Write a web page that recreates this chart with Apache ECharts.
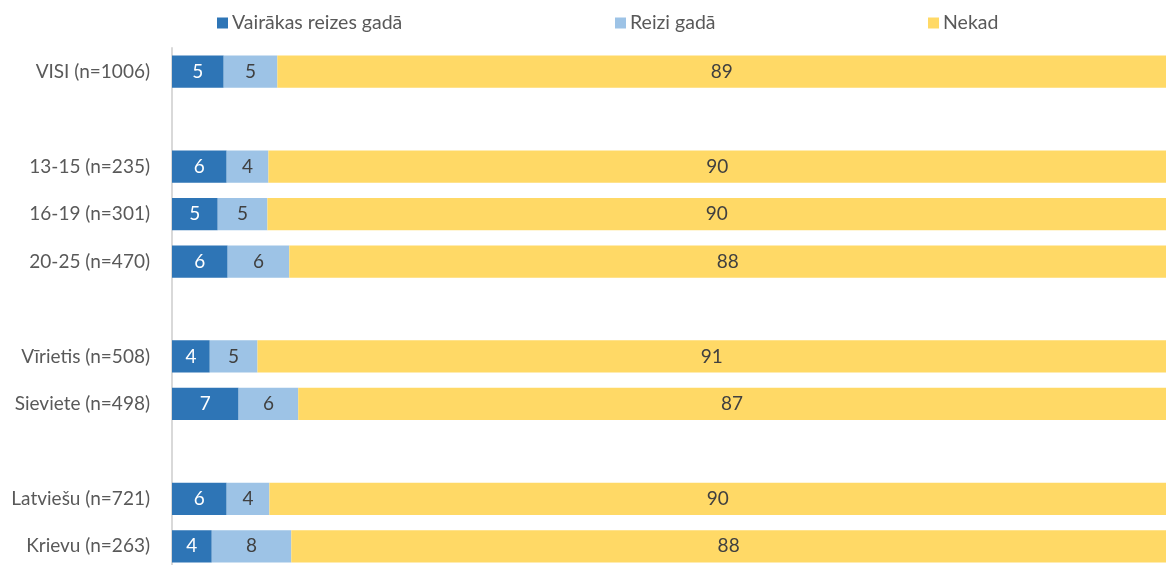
<!DOCTYPE html>
<html><head><meta charset="utf-8">
<script src="https://cdn.jsdelivr.net/npm/echarts@6/dist/echarts.min.js"></script>
<style>html,body{margin:0;padding:0;background:#fff;overflow:hidden}#c{width:1166px;height:575px}</style>
</head><body><div id="c"></div>
<script>
const categories = ['VISI (n=1006)', ' ', '13-15 (n=235)', '16-19 (n=301)', '20-25 (n=470)', '  ', 'Vīrietis (n=508)', 'Sieviete (n=498)', '   ', 'Latviešu (n=721)', 'Krievu (n=263)'];
const seriesNames = ['Vairākas reizes gadā', 'Reizi gadā', 'Nekad'];
const severalTimes = [5.2, null, 5.5, 4.6, 5.6, null, 3.8, 6.7, null, 5.5, 4.0];
const once = [5.4, null, 4.2, 5.0, 6.2, null, 4.8, 6.0, null, 4.3, 8.0];
const never = [89.4, null, 90.3, 90.4, 88.2, null, 91.4, 87.3, null, 90.2, 88.0];
const colors = ['#2E75B6', '#9DC3E6', '#FFD966'];
const labelColors = ['#FFFFFF', '#404040', '#404040'];
const values = [severalTimes, once, never];
const FONT = 'Lato';

const chart = echarts.init(document.getElementById('c'), null, {renderer: 'canvas'});
const legendLefts = [212, 610, 923];
chart.setOption({
  animation: false,
  textStyle: {fontFamily: FONT},
  legend: seriesNames.map((n, i) => ({
    data: [n], left: legendLefts[i], top: 8, itemWidth: 11, itemHeight: 11, itemGap: 0,
    icon: 'rect', textStyle: {fontFamily: FONT, fontSize: 19.5, color: '#595959', padding: [0, 0, 0, -1]},
    selectedMode: false
  })),
  grid: {left: 172, right: 0, top: 48, height: 522, containLabel: false},
  xAxis: {type: 'value', min: 0, max: 100, show: false},
  yAxis: {
    type: 'category', data: categories, inverse: true,
    axisLine: {show: true, lineStyle: {color: '#D9D9D9', width: 2}},
    axisTick: {show: false},
    axisLabel: {fontFamily: FONT, fontSize: 19, color: '#595959', margin: 22}
  },
  series: seriesNames.map((n, i) => ({
    name: n, type: 'bar', stack: 'all', data: values[i], barCategoryGap: '32%',
    itemStyle: {color: colors[i]},
    label: {show: true, position: 'inside', fontFamily: FONT, fontSize: 19, color: labelColors[i],
      formatter: p => p.value == null ? '' : Math.round(p.value)}
  }))
});
</script></body></html>
